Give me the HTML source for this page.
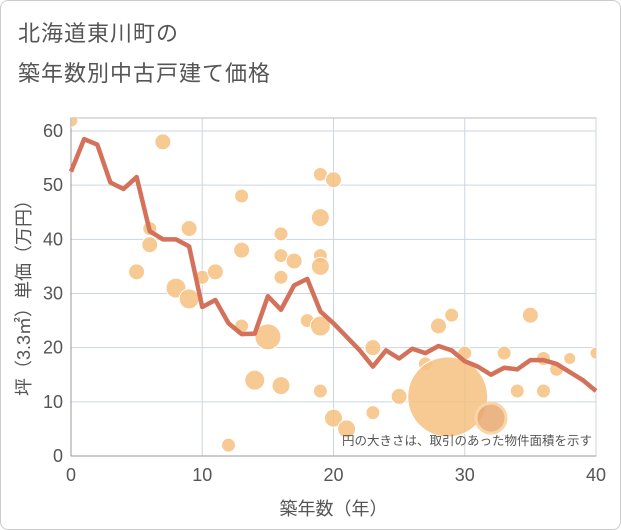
<!DOCTYPE html>
<html><head><meta charset="utf-8"><style>
body{margin:0;background:#fff;}
.wrap{width:619px;height:528px;border:1px solid #ccc;border-radius:8px;position:relative;overflow:hidden;font-family:"Liberation Sans","Noto Sans CJK JP",sans-serif;}
.t{position:absolute;left:17px;color:#555;font-size:22px;letter-spacing:1px;}
</style></head><body>
<div class="wrap">
<div class="t" style="top:15px">北海道東川町の</div>
<div class="t" style="top:55px">築年数別中古戸建て価格</div>
<svg id="c" width="621" height="530" style="position:absolute;left:-1px;top:-1px"></svg>
</div>
<script>
const lineX=[0,1,2,3,4,5,6,7,8,9,10,11,12,13,14,15,16,17,18,19,20,21,22,23,24,25,26,27,28,29,30,31,32,33,34,35,36,37,38,39,40];
const lineY=[52.5,58.5,57.5,50.5,49.3,51.5,41.5,40,40,38.7,27.5,28.8,24.5,22.5,22.6,29.5,27,31.5,32.7,26.7,24.5,22,19.5,16.5,19.5,18,19.8,19,20.3,19.5,17.5,16.5,15,16.3,16,17.7,17.7,17,15.5,14,12];
const ptX=[0,7,5,6,6,8,9,9,10,11,12,13,13,13,14,15,16,16,16,16,17,18,19,19,19,19,19,19,20,20,21,23,23,25,27,28,29,28.7,30,32,33,34,35,36,36,37,38,40];
const ptY=[62,58,34,42,39,31,29,42,33,34,2,48,38,24,14,22,41,37,33,13,36,25,52,44,37,35,24,12,51,7,5,20,8,11,17,24,26,10.9,19,7,19,12,26,18,12,16,18,19];
const ptR=[7,8,8,7,8,10,10,8,7,8,7,7,8,7,10,13,7,7,7,9,8,7,7,9,7,9,10,7,8,9,9,8,7,8,7,8,7,40,7,15,7,7,8,7,7,7,6,6];
const xTicks=[0,10,20,30,40];
const yTicks=[0,10,20,30,40,50,60];
const NS="http://www.w3.org/2000/svg";
const svg=document.getElementById('c');
const X0=71,X1=596,Y0=456,YT=131;
const sx=v=>X0+(X1-X0)*v/40;
const sy=v=>Y0-(Y0-YT)*v/60;
function mk(t,a){const e=document.createElementNS(NS,t);for(const k in a)e.setAttribute(k,a[k]);svg.appendChild(e);return e;}
const clip=mk('clipPath',{id:'cp'});
const cr=document.createElementNS(NS,'rect');cr.setAttribute('x',X0);cr.setAttribute('y',118);cr.setAttribute('width',X1-X0);cr.setAttribute('height',Y0-118);clip.appendChild(cr);
const bg=mk('rect',{x:X0,y:118,width:X1-X0,height:Y0-118,fill:'#fff',stroke:'#bbb'});


yTicks.forEach(v=>{
 const g=mk('line',{x1:X0,x2:X1,y1:sy(v),y2:sy(v),stroke:'#ccd6e0','stroke-width':1});
 
 
 const t=mk('text',{x:X0-8,y:sy(v)+6,'text-anchor':'end','font-size':18,fill:'#555','font-family':'Liberation Sans'});
 t.textContent=v;
 
 
});
xTicks.forEach(v=>{
 const g=mk('line',{x1:sx(v),x2:sx(v),y1:118,y2:Y0,stroke:'#ccd6e0','stroke-width':1});
 
 
 const t=mk('text',{x:sx(v),y:Y0+25,'text-anchor':'middle','font-size':18,fill:'#555','font-family':'Liberation Sans'});
 t.textContent=v;
 
 
});
const ax=mk('line',{x1:X0,x2:X1,y1:Y0,y2:Y0,stroke:'#999'});


const ay=mk('line',{x1:X0,x2:X0,y1:118,y2:Y0,stroke:'#999'});


const pg=mk('g',{'clip-path':'url(#cp)'});
ptX.forEach((x,i)=>{
 const c=document.createElementNS(NS,'circle');
 c.setAttribute('cx',sx(x));c.setAttribute('cy',sy(ptY[i]));c.setAttribute('r',ptR[i]);
 c.setAttribute('fill',ptR[i]===15?'#e9a870':'#f4c17f');c.setAttribute('fill-opacity','0.85');
 c.setAttribute('stroke',ptR[i]===15?'#f8d6a8':'#fff');c.setAttribute('stroke-width',ptR[i]===15?'3':'1');
 
 
 pg.appendChild(c);
});
const pl=mk('polyline',{points:lineX.map((x,i)=>sx(x)+','+sy(lineY[i])).join(' '),fill:'none',stroke:'#d4715a','stroke-width':4.5,'stroke-linejoin':'round'});


const note=mk('text',{x:592,y:445,'text-anchor':'end','font-size':12.5,fill:'#555'});
note.textContent='円の大きさは、取引のあった物件面積を示す';


const xt=mk('text',{x:sx(20),y:515,'text-anchor':'middle','font-size':18,fill:'#555'});
xt.textContent='築年数（年）';


const yt=mk('text',{x:0,y:0,'text-anchor':'middle','font-size':18,fill:'#555',transform:'translate(30,'+sy(30)+') rotate(-90)'});
yt.textContent='坪（3.3㎡）単価（万円）';


</script>
</body></html>
